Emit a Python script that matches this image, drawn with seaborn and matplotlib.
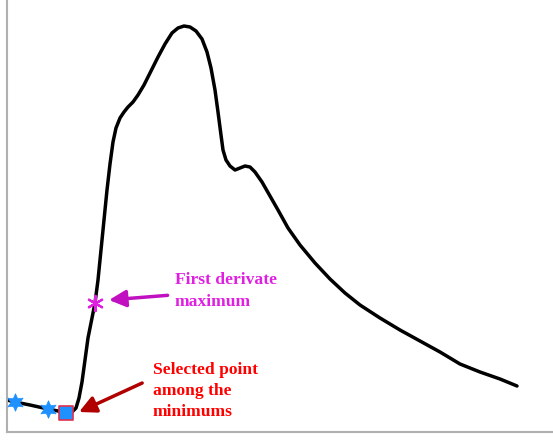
import matplotlib
matplotlib.use("Agg")
import matplotlib.pyplot as plt
import seaborn as sns
import pandas as pd

# pulse waveform (arbitrary units)
time = [0, 8, 23, 41, 51, 59, 65, 69, 72, 75, 78, 81, 85, 88, 91, 94, 97, 100, 103, 106,
        109, 113, 117, 121, 126, 131, 137, 143, 151, 158, 165, 171, 177, 183, 189, 195, 200, 204,
        208, 211, 214, 216, 219, 223, 228, 233, 238, 243, 248, 255, 263, 271, 281, 293,
        308, 323, 338, 353, 373, 393, 413, 433, 453, 473, 493, 510]
signal = [32, 30, 27, 23, 21, 19, 20, 24, 34, 50, 72, 94, 114, 129, 152, 182, 212, 242, 268, 290,
          304, 314, 320, 325, 330, 337, 347, 359, 375, 388, 399, 404, 406, 405, 401, 393, 380, 364,
          342, 320, 297, 282, 272, 266, 262, 264, 266, 265, 260, 250, 236, 222, 204, 187,
          169, 153, 139, 127, 114, 102, 91, 80, 68, 60, 53, 46]

min_time = [8, 41]
min_signal = [30, 23]
sel_time = [59]
sel_signal = [19]
deriv_time = [88]
deriv_signal = [129]

sns.set_style("white")
fig = plt.figure(figsize=(5.53, 4.4), dpi=100)
ax = fig.add_axes([7 / 553, 8 / 440, 1 - 7 / 553, 1 - 8 / 440])

df = pd.DataFrame({"time": time, "signal": signal})
sns.lineplot(data=df, x="time", y="signal", sort=False, color="black", linewidth=2.5, ax=ax)

# candidate minimums
sns.scatterplot(x=min_time, y=min_signal, marker=(6, 1, 0), s=160, color="#1e90ff",
                edgecolor="#1e90ff", linewidth=0.5, ax=ax, zorder=5)
sns.scatterplot(x=sel_time, y=sel_signal, marker="s", s=110, color="#1e90ff",
                edgecolor="#e03050", linewidth=1.2, ax=ax, zorder=5)
sns.scatterplot(x=deriv_time, y=deriv_signal, marker=(6, 2, 0), s=120, color="#e020e0",
                edgecolor="#e020e0", linewidth=1.6, ax=ax, zorder=5)

serif = ["Liberation Serif", "DejaVu Serif"]
ax.annotate("First derivate\nmaximum", xy=(102, 132), xytext=(168, 141),
            color="#e020e0", fontsize=12.6, fontweight="bold", family=serif,
            va="center", ha="left", linespacing=1.45,
            arrowprops=dict(arrowstyle="-|>,head_length=0.8,head_width=0.4",
                            color="#c010c0", lw=2.5, shrinkA=3, shrinkB=0,
                            relpos=(0, 0.4)))
ax.annotate("Selected point\namong the\nminimums", xy=(72, 20), xytext=(146, 41),
            color="#ff0000", fontsize=12.6, fontweight="bold", family=serif,
            va="center", ha="left", linespacing=1.45,
            arrowprops=dict(arrowstyle="-|>,head_length=0.8,head_width=0.4",
                            color="#b00000", lw=2.5, shrinkA=6, shrinkB=0,
                            relpos=(0, 0.72)))

ax.set_xlim(0, 546)
ax.set_ylim(0, 432)
ax.set_xticks([])
ax.set_yticks([])
ax.set_xlabel("")
ax.set_ylabel("")
for side in ["top", "right"]:
    ax.spines[side].set_visible(False)
for side in ["left", "bottom"]:
    ax.spines[side].set_color("#b0b0b0")
    ax.spines[side].set_linewidth(1.5)

fig.savefig("out.png", dpi=100)
